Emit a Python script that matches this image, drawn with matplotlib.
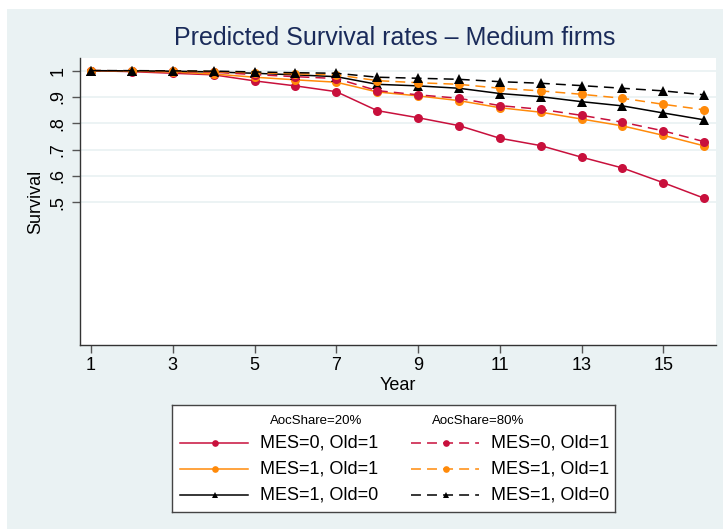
import matplotlib
matplotlib.use('Agg')
import matplotlib.pyplot as plt
from matplotlib.patches import Rectangle
from matplotlib.lines import Line2D

plt.rcParams['font.family'] = ['Liberation Sans', 'DejaVu Sans']

year = list(range(1, 17))

# AocShare=20%
mes0_old1_20 = [1.0, 0.996, 0.990, 0.984, 0.961, 0.942, 0.920, 0.848,
                0.821, 0.791, 0.743, 0.715, 0.671, 0.630, 0.574, 0.515]
mes1_old1_20 = [1.0, 0.998, 0.995, 0.987, 0.975, 0.965, 0.956, 0.919,
                0.904, 0.886, 0.859, 0.842, 0.816, 0.790, 0.754, 0.714]
mes1_old0_20 = [1.0, 0.999, 0.998, 0.995, 0.990, 0.984, 0.977, 0.948,
                0.942, 0.933, 0.913, 0.901, 0.882, 0.866, 0.839, 0.813]
# AocShare=80%
mes0_old1_80 = [1.0, 0.999, 0.997, 0.994, 0.985, 0.977, 0.970, 0.924,
                0.908, 0.895, 0.867, 0.853, 0.830, 0.804, 0.771, 0.730]
mes1_old1_80 = [1.0, 0.999, 0.998, 0.996, 0.992, 0.988, 0.984, 0.962,
                0.954, 0.948, 0.933, 0.923, 0.910, 0.895, 0.872, 0.851]
mes1_old0_80 = [1.0, 1.0, 0.999, 0.998, 0.995, 0.992, 0.990, 0.975,
                0.971, 0.967, 0.958, 0.952, 0.943, 0.933, 0.923, 0.908]

labels = ['MES=0, Old=1', 'MES=1, Old=1', 'MES=1, Old=0']
headers = ['AocShare=20%', 'AocShare=80%']
xticks = [1, 3, 5, 7, 9, 11, 13, 15]
yticks = [0.5, 0.6, 0.7, 0.8, 0.9, 1.0]
ytick_labels = ['.5', '.6', '.7', '.8', '.9', '1']

RED = '#C8103C'
ORANGE = '#FF8A0A'
BLACK = '#000000'
BG = '#EAF2F3'
W, H = 723, 529

fig = plt.figure(figsize=(W / 100, H / 100), dpi=100, facecolor='white')
# stata-like background panel
fig.patches.append(Rectangle((7 / W, 0), 1, 1 - 9 / H, transform=fig.transFigure,
                             facecolor=BG, edgecolor='none', zorder=-10))

ax = fig.add_axes([80 / W, 1 - 345 / H, 636 / W, 287 / H])
ax.set_facecolor('white')

series = [
    (mes0_old1_20, RED, 'o', '-'),
    (mes1_old1_20, ORANGE, 'o', '-'),
    (mes1_old0_20, BLACK, '^', '-'),
    (mes0_old1_80, RED, 'o', '--'),
    (mes1_old1_80, ORANGE, 'o', '--'),
    (mes1_old0_80, BLACK, '^', '--'),
]
for vals, col, mk, ls in series:
    line, = ax.plot(year, vals, color=col, marker=mk, linestyle=ls, lw=1.1,
                    markersize=6.5 if mk == 'o' else 7.3, markeredgewidth=0, zorder=3)
    if ls == '--':
        line.set_dashes([6.5, 4])

ax.set_xlim(0.73, 16.29)
ax.set_ylim(-0.043, 1.048)
ax.set_xticks(xticks)
ax.set_yticks(yticks)
ax.set_yticklabels(ytick_labels, rotation=90, va='center')
ax.grid(axis='y', color=BG, lw=1.3)
ax.set_axisbelow(True)
for s in ['top', 'right']:
    ax.spines[s].set_visible(False)
for s in ['left', 'bottom']:
    ax.spines[s].set_color('#333333')
    ax.spines[s].set_linewidth(1.0)
ax.tick_params(axis='both', length=5.5, width=1, color='#555555', labelsize=13, pad=3)
ax.tick_params(axis='y', pad=4)
ax.set_xlabel('Year', fontsize=13, labelpad=2)
ax.set_ylabel('Survival', fontsize=13, labelpad=4)

fig.text(395 / W, 1 - 38 / H, 'Predicted Survival rates \u2013 Medium firms',
         ha='center', va='center', fontsize=18, color='#1A2B5A')

# legend box, drawn by hand to get the two column headers
lg = fig.add_axes([172 / W, 1 - 512 / H, 443 / W, 107 / H])
lg.set_xlim(0, 443)
lg.set_ylim(107, 0)
lg.set_xticks([])
lg.set_yticks([])
lg.set_facecolor('white')
for s in lg.spines.values():
    s.set_color('#444444')
    s.set_linewidth(1.0)

for j, hdr in enumerate(headers):
    lg.text([144, 306][j], 16, hdr, ha='center', va='center', fontsize=9.5)

rows = [38, 64, 90]
for i, (vals, col, mk, ls) in enumerate(series):
    col_i = i // 3
    r = rows[i % 3]
    x0 = [8, 239][col_i]
    h = Line2D([x0, x0 + 68], [r, r], color=col, lw=1.1, linestyle=ls)
    if ls == '--':
        h.set_dashes([6.5, 4])
    lg.add_line(h)
    lg.plot([x0 + 35], [r], marker=mk, color=col, markersize=4.8, markeredgewidth=0)
    lg.text(x0 + 80, r, labels[i % 3], ha='left', va='center', fontsize=13)

fig.savefig('out.png', dpi=100, facecolor=fig.get_facecolor())
